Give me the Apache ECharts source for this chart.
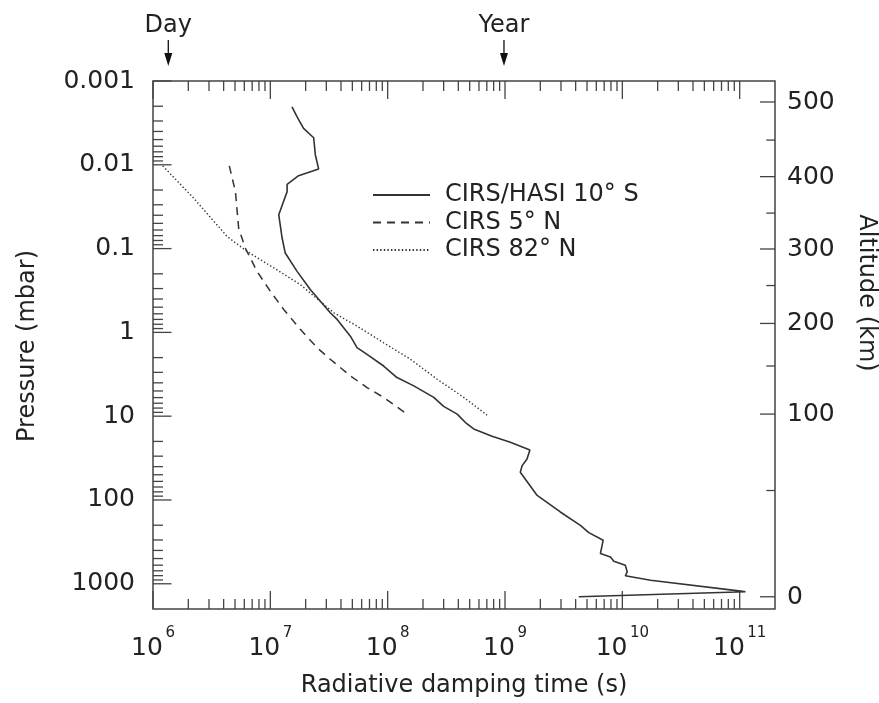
<!DOCTYPE html>
<html><head><meta charset="utf-8">
<script src="https://cdn.jsdelivr.net/npm/echarts@6/dist/echarts.min.js"></script>
<style>html,body{margin:0;padding:0;background:#fff}#c{width:879px;height:703px}</style>
</head><body><div id="c"></div>
<script>
// ---- data ----
const seriesNames = ['CIRS/HASI 10° S', 'CIRS 5° N', 'CIRS 82° N'];

const hasiTime = [1.53e7,1.69e7,1.92e7,2.34e7,2.42e7,2.58e7,1.74e7,1.39e7,1.39e7,1.18e7,1.26e7,1.34e7,1.69e7,2.19e7,2.67e7,3.24e7,3.71e7,4.81e7,5.48e7,6.67e7,9.24e7,1.20e8,1.67e8,2.47e8,3.00e8,3.91e8,4.60e8,5.41e8,7.76e8,1.11e9,1.63e9,1.54e9,1.40e9,1.35e9,1.88e9,2.96e9,4.39e9,5.18e9,6.86e9,6.50e9,7.92e9,8.46e9,1.06e10,1.10e10,1.06e10,1.74e10,1.02e11,1.12e11,4.25e9];
const hasiPressure = [0.00204,0.00268,0.00368,0.00476,0.00763,0.0112,0.0135,0.0171,0.0209,0.0395,0.0748,0.113,0.187,0.308,0.425,0.583,0.700,1.11,1.52,1.83,2.52,3.46,4.35,5.97,7.64,9.44,11.9,14.2,17.4,20.5,25.3,32.4,38.9,46.6,88.3,139,201,245,303,436,478,539,601,720,803,906,1225,1245,1430];

const cirs5Time = [4.47e6,5.04e6,5.37e6,6.12e6,7.70e6,1.00e7,1.30e7,1.80e7,2.50e7,3.24e7,4.81e7,6.67e7,9.24e7,1.46e8];
const cirs5Pressure = [0.0103,0.0209,0.0569,0.0984,0.187,0.323,0.532,0.920,1.52,2.09,3.31,4.55,5.97,9.44];

const cirs82Time = [1.21e6,2.22e6,4.28e6,6.32e6,1.07e7,1.80e7,3.47e7,5.48e7,9.24e7,1.56e8,2.64e8,4.45e8,7.03e8];
const cirs82Pressure = [0.0103,0.0250,0.0716,0.108,0.170,0.269,0.583,0.841,1.33,2.09,3.62,5.97,9.70];

const xTickExponents = [6, 7, 8, 9, 10, 11];
const yTickLabels = ['0.001', '0.01', '0.1', '1', '10', '100', '1000'];
const altitudeTicks = [0, 50, 100, 150, 200, 250, 300, 350, 400, 450, 500];
const altitudePressure = [1429, 77.1, 9.44, 2.52, 0.782, 0.276, 0.1011, 0.0377, 0.01385, 0.00507, 0.00178];

const markerLabels = ['Day', 'Year'];
const markerTimes = [1.35e6, 9.8e8];

const xMin = 1e6, xMax = 2e11, yMin = 0.001, yMax = 2000;

// ---- helpers ----
const FONT = 'DejaVu Sans';
const INK = '#222';
const AX = '#444';
function zip(a, b) { return a.map((v, i) => [v, b[i]]); }
function txt(text, x, y, size, align, valign) {
  return { type: 'text', x: x, y: y, style: { text: text, fontSize: size, fontFamily: FONT, fill: INK,
    align: align, verticalAlign: valign, textAlign: align, textVerticalAlign: valign } };
}

// tick data (positions from the log scale)
const xTickData = [];
xTickExponents.forEach(e => {
  const base = Math.pow(10, e);
  xTickData.push([base, 1, 1]);
  for (let m = 2; m <= 9; m++) { const v = m * base; if (v < xMax * 0.999) xTickData.push([v, 1, 0]); }
});
const yTickData = [];
for (let e = -3; e <= 3; e++) {
  const base = Math.pow(10, e);
  yTickData.push([xMin, base, 1]);
  for (let m = 2; m <= 9; m++) { const v = m * base; if (v < yMax * 0.999) yTickData.push([xMin, v, 0]); }
}

const chart = echarts.init(document.getElementById('c'), null, { renderer: 'canvas' });
const lineColor = '#333';

chart.setOption({
  animation: false,
  backgroundColor: '#fff',
  grid: { left: 153, top: 81, width: 622, height: 530, show: true, borderColor: AX, borderWidth: 1.5, backgroundColor: 'transparent' },
  xAxis: {
    type: 'log', min: xMin, max: xMax,
    axisLine: { show: false }, axisTick: { show: false }, splitLine: { show: false }, axisLabel: { show: false },
    name: 'Radiative damping time (s)', nameLocation: 'middle', nameGap: 65,
    nameTextStyle: { fontSize: 24, fontFamily: FONT, color: INK }
  },
  yAxis: {
    type: 'log', min: yMin, max: yMax, inverse: true,
    axisLine: { show: false }, axisTick: { show: false }, splitLine: { show: false },
    axisLabel: {
      margin: 18, fontSize: 25, fontFamily: FONT, color: INK,
      formatter: function (v) {
        const l = Math.log10(v), r = Math.round(l);
        if (Math.abs(l - r) > 1e-6 || r < -3 || r > 3) return '';
        return yTickLabels[r + 3];
      }
    }
  },
  legend: {
    data: seriesNames, orient: 'vertical', left: 372, top: 183, padding: 0,
    itemWidth: 57, itemHeight: 14, itemGap: 3.5,
    itemStyle: { opacity: 0 },
    textStyle: { fontSize: 24, fontFamily: FONT, color: INK, padding: [0, 0, 0, 10] }
  },
  graphic: [
    { type: 'text', x: 28, y: 346, rotation: Math.PI / 2,
      style: { text: 'Pressure (mbar)', fontSize: 24, fontFamily: FONT, fill: INK, align: 'center', verticalAlign: 'middle', textAlign: 'center', textVerticalAlign: 'middle' } },
    { type: 'text', x: 866, y: 293, rotation: -Math.PI / 2,
      style: { text: 'Altitude (km)', fontSize: 24, fontFamily: FONT, fill: INK, align: 'center', verticalAlign: 'middle', textAlign: 'center', textVerticalAlign: 'middle' } }
  ],
  series: [
    { name: seriesNames[0], type: 'line', data: zip(hasiTime, hasiPressure), showSymbol: false, symbol: 'none',
      lineStyle: { color: lineColor, width: 1.6, type: 'solid' }, itemStyle: { color: lineColor } },
    { name: seriesNames[1], type: 'line', data: zip(cirs5Time, cirs5Pressure), showSymbol: false, symbol: 'none',
      lineStyle: { color: lineColor, width: 1.5, type: [8, 6] }, itemStyle: { color: lineColor } },
    { name: seriesNames[2], type: 'line', data: zip(cirs82Time, cirs82Pressure), showSymbol: false, symbol: 'none',
      lineStyle: { color: lineColor, width: 1.4, type: [1.4, 2.2] }, itemStyle: { color: lineColor } },
    { // x-axis ticks (bottom and top)
      type: 'custom', clip: false, silent: true, data: xTickData, encode: { x: 0, y: 1 },
      renderItem: function (params, api) {
        const v = api.value(0), major = api.value(2);
        const pb = api.coord([v, yMax]), pt = api.coord([v, yMin]);
        const len = major ? 18 : 10;
        const st = { stroke: AX, lineWidth: 1.3 };
        return { type: 'group', children: [
          { type: 'line', shape: { x1: pb[0], y1: pb[1], x2: pb[0], y2: pb[1] - len }, style: st },
          { type: 'line', shape: { x1: pt[0], y1: pt[1], x2: pt[0], y2: pt[1] + len }, style: st }
        ] };
      }
    },
    { // y-axis ticks (left)
      type: 'custom', clip: false, silent: true, data: yTickData, encode: { x: 0, y: 1 },
      renderItem: function (params, api) {
        const v = api.value(1), major = api.value(2);
        const p = api.coord([xMin, v]);
        const len = major ? 18.5 : 10;
        return { type: 'line', shape: { x1: p[0], y1: p[1], x2: p[0] + len, y2: p[1] }, style: { stroke: AX, lineWidth: 1.3 } };
      }
    },
    { // x tick labels 10^n
      type: 'custom', clip: false, silent: true,
      data: xTickExponents.map(e => [Math.pow(10, e), yMax, e]), encode: { x: 0, y: 1 },
      renderItem: function (params, api) {
        const e = api.value(2);
        const p = api.coord([api.value(0), yMax]);
        const sup = String(e);
        const w1 = 31.8, gap = 2.5, w2 = 9.55 * sup.length;
        const left = p[0] - (w1 + gap + w2) / 2;
        return { type: 'group', children: [
          txt('10', left, p[1] + 39.5, 25, 'left', 'middle'),
          txt(sup, left + w1 + gap, p[1] + 24.5, 15, 'left', 'middle')
        ] };
      }
    },
    { // right altitude axis
      type: 'custom', clip: false, silent: true,
      data: altitudeTicks.map((a, i) => [xMax, altitudePressure[i], a]), encode: { x: 0, y: 1 },
      renderItem: function (params, api) {
        const a = api.value(2);
        const p = api.coord([xMax, api.value(1)]);
        const major = a % 100 === 0;
        const len = major ? 15 : 8.7;
        const ch = [{ type: 'line', shape: { x1: p[0] - len, y1: p[1], x2: p[0], y2: p[1] }, style: { stroke: AX, lineWidth: 1.3 } }];
        if (major) ch.push(txt(String(a), p[0] + 12, p[1] + 0.5, 25, 'left', 'middle'));
        return { type: 'group', children: ch };
      }
    },
    { // Day / Year markers
      type: 'custom', clip: false, silent: true,
      data: markerTimes.map((t, i) => [t, yMin, i]), encode: { x: 0, y: 1 },
      renderItem: function (params, api) {
        const i = api.value(2);
        const p = api.coord([api.value(0), yMin]);
        const x = p[0], y = p[1];
        return { type: 'group', children: [
          { type: 'line', shape: { x1: x, y1: y - 41, x2: x, y2: y - 26 }, style: { stroke: '#111', lineWidth: 1.3 } },
          { type: 'polygon', shape: { points: [[x - 4, y - 28], [x + 4, y - 28], [x, y - 15]] }, style: { fill: '#111' } },
          txt(markerLabels[i], x, y - 55, 24, 'center', 'middle')
        ] };
      }
    }
  ]
});
</script></body></html>
